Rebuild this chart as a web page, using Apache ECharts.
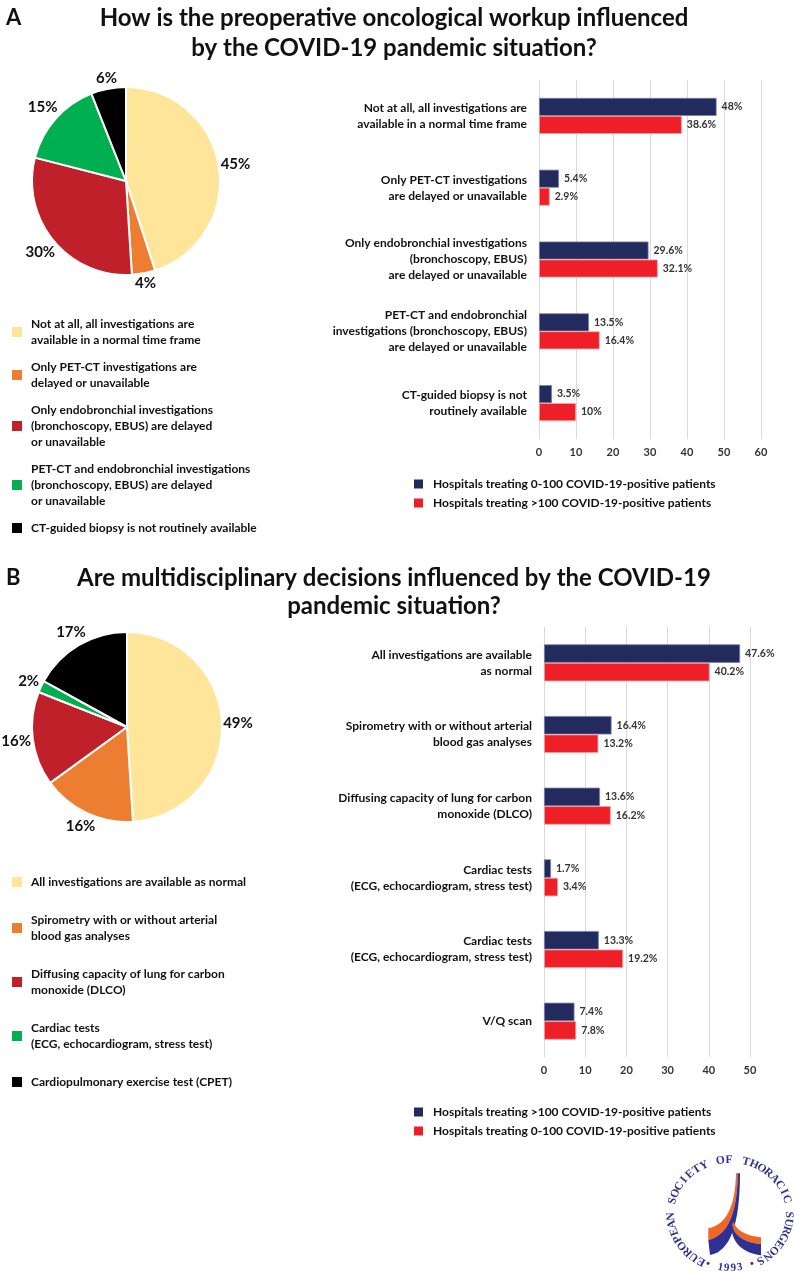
<!DOCTYPE html>
<html><head><meta charset="utf-8">
<script src="https://cdn.jsdelivr.net/npm/echarts@6/dist/echarts.min.js"></script>
<style>html,body{margin:0;padding:0;background:#fff}#c{width:795px;height:1279px}</style>
</head><body><div id="c"></div>
<script>
const FONT = 'Lato';
const TXT = '#111111';

const panelA = 'A';
const titleA = ['How is the preoperative oncological workup influenced', 'by the COVID-19 pandemic situation?'];
const pieANames = [
  'Not at all, all investigations are\navailable in a normal time frame',
  'Only PET-CT investigations are\ndelayed or unavailable',
  'Only endobronchial investigations\n(bronchoscopy, EBUS) are delayed\nor unavailable',
  'PET-CT and endobronchial investigations\n(bronchoscopy, EBUS) are delayed\nor unavailable',
  'CT-guided biopsy is not routinely available'
];
const pieAValues = [45, 4, 30, 15, 6];
const barACategories = [
  'Not at all, all investigations are\navailable in a normal time frame',
  'Only PET-CT investigations\nare delayed or unavailable',
  'Only endobronchial investigations\n(bronchoscopy, EBUS)\nare delayed or unavailable',
  'PET-CT and endobronchial\ninvestigations (bronchoscopy, EBUS)\nare delayed or unavailable',
  'CT-guided biopsy is not\nroutinely available'
];
const barASeries = ['Hospitals treating 0-100 COVID-19-positive patients', 'Hospitals treating >100 COVID-19-positive patients'];
const barANavy = [48, 5.4, 29.6, 13.5, 3.5];
const barARed = [38.6, 2.9, 32.1, 16.4, 10];
const axisATicks = { min: 0, max: 60, interval: 10 };

const panelB = 'B';
const titleB = ['Are multidisciplinary decisions influenced by the COVID-19', 'pandemic situation?'];
const pieBNames = [
  'All investigations are available as normal',
  'Spirometry with or without arterial\nblood gas analyses',
  'Diffusing capacity of lung for carbon\nmonoxide (DLCO)',
  'Cardiac tests\n(ECG, echocardiogram, stress test)',
  'Cardiopulmonary exercise test (CPET)'
];
const pieBValues = [49, 16, 16, 2, 17];
const barBCategories = [
  'All investigations are available\nas normal',
  'Spirometry with or without arterial\nblood gas analyses',
  'Diffusing capacity of lung for carbon\nmonoxide (DLCO)',
  'Cardiac tests\n(ECG, echocardiogram, stress test)',
  'Cardiac tests\n(ECG, echocardiogram, stress test)',
  'V/Q scan'
];
const barBSeries = ['Hospitals treating >100 COVID-19-positive patients', 'Hospitals treating 0-100 COVID-19-positive patients'];
const barBNavy = [47.6, 16.4, 13.6, 1.7, 13.3, 7.4];
const barBRed = [40.2, 13.2, 16.2, 3.4, 19.2, 7.8];
const axisBTicks = { min: 0, max: 50, interval: 10 };

const logoText = 'EUROPEAN SOCIETY OF THORACIC SURGEONS';
const logoYear = '• 1993 •';

const PIE_COLORS = ['#FEE599', '#ED7D31', '#C0202A', '#00B050', '#000000'];
const NAVY = '#232B5E';
const RED = '#EE1F26';

const chart = echarts.init(document.getElementById('c'), null, { renderer: 'canvas', width: 795, height: 1279 });

function pieData(names, values) {
  return names.map((n, i) => ({ name: n, value: values[i], itemStyle: { color: PIE_COLORS[i] } }));
}
// place each label just outside the slice edge along its mid-angle (like "outside end")
function outsideEnd(values, center, r) {
  const total = values.reduce((a, b) => a + b, 0);
  return function (p) {
    let cum = 0;
    for (let i = 0; i < p.dataIndex; i++) cum += values[i];
    const mid = (cum + values[p.dataIndex] / 2) / total * 2 * Math.PI;
    const dx = Math.sin(mid), dy = -Math.cos(mid);
    const w = p.labelRect.width, h = p.labelRect.height;
    const d = r + 1 + Math.abs(dx) * w / 2 + Math.abs(dy) * h / 2;
    return { x: center[0] + dx * d, y: center[1] + dy * d, align: 'center', verticalAlign: 'middle' };
  };
}
function pieSeries(names, values, center, r) {
  return {
    type: 'pie', center: center, radius: r, startAngle: 90, clockwise: true,
    avoidLabelOverlap: false, silent: true,
    itemStyle: { borderColor: '#fff', borderWidth: 2 },
    label: { show: true, position: 'outside', formatter: '{c}%', fontFamily: FONT, fontWeight: 'bold', fontSize: 15, color: TXT },
    labelLine: { show: false, length: 0, length2: 0 },
    labelLayout: outsideEnd(values, center, r),
    data: pieData(names, values)
  };
}
function pieLegend(names, top, gap) {
  return {
    orient: 'vertical', left: 12, top: top, padding: 0, itemGap: gap,
    icon: 'rect', itemWidth: 10, itemHeight: 10, selectedMode: false,
    itemStyle: { borderWidth: 0 },
    textStyle: { fontFamily: FONT, fontWeight: 'bold', fontSize: 12, lineHeight: 16, color: TXT, padding: [0, 0, 0, 4] },
    data: names
  };
}
function barLegend(names, colors, top) {
  return {
    orient: 'vertical', left: 414, top: top, padding: 0, itemGap: 3,
    icon: 'rect', itemWidth: 9, itemHeight: 9, selectedMode: false,
    textStyle: { fontFamily: FONT, fontWeight: 'bold', fontSize: 12, lineHeight: 16, color: TXT, padding: [0, 0, 0, 5] },
    data: names.map((n, i) => ({ name: n, itemStyle: { color: colors[i], borderWidth: 0 } }))
  };
}
function barSeries(name, data, color, border, axisIdx, bw) {
  return {
    type: 'bar', name: name, data: data, xAxisIndex: axisIdx, yAxisIndex: axisIdx,
    barWidth: bw, barGap: '0%', silent: true,
    itemStyle: { color: color, borderColor: border, borderWidth: 0.8 },
    label: { show: true, position: 'right', distance: 5, formatter: '{c}%', fontFamily: FONT, fontWeight: 'bold', fontSize: 10.5, color: '#333' }
  };
}
function xAx(ticks, gi) {
  return {
    type: 'value', gridIndex: gi, min: ticks.min, max: ticks.max, interval: ticks.interval,
    axisLine: { show: false }, axisTick: { show: false },
    splitLine: { show: true, lineStyle: { color: '#D9D9D9', width: 1 } },
    axisLabel: { fontFamily: FONT, fontWeight: 'bold', fontSize: 11, color: '#333', margin: 8 }
  };
}
function yAx(cats, gi) {
  return {
    type: 'category', gridIndex: gi, data: cats, inverse: true,
    axisLine: { show: false }, axisTick: { show: false },
    axisLabel: { interval: 0, margin: 12, fontFamily: FONT, fontWeight: 'bold', fontSize: 12, lineHeight: 16, color: TXT }
  };
}

// title + logo graphics
const graphics = [];
function addTitle(panel, lines, y0, dy) {
  graphics.push({ type: 'text', x: 6, y: y0, style: { text: panel, fontFamily: FONT, fontWeight: 'bold', fontSize: 22, fill: TXT, align: 'left', verticalAlign: 'middle' } });
  lines.forEach((t, i) => graphics.push({ type: 'text', x: 394, y: y0 + i * dy, style: { text: t, fontFamily: FONT, fontWeight: 'bold', fontSize: 24, fill: TXT, align: 'center', verticalAlign: 'middle' } }));
}
addTitle(panelA, titleA, 18, 30);
addTitle(panelB, titleB, 578, 28);

const LCX = 730, LCY = 1214, LRX = 59, LRY = 54, LOGO_BLUE = '#2E3192', LOGO_OR = '#F26522';
const chars = logoText.split('');
const a0 = -151, a1 = 149;
chars.forEach((ch, i) => {
  const th = (a0 + (a1 - a0) * i / (chars.length - 1)) * Math.PI / 180;
  graphics.push({ type: 'text', x: LCX + LRX * Math.sin(th), y: LCY - LRY * Math.cos(th), rotation: -th, silent: true,
    style: { text: ch, fontFamily: 'Liberation Serif', fontWeight: 'bold', fontSize: 11.5, fill: LOGO_BLUE, align: 'center', verticalAlign: 'middle' } });
});
const ychars = logoYear.split('');
ychars.forEach((ch, i) => {
  const thd = 158 + (202 - 158) * (ychars.length - 1 - i) / (ychars.length - 1);
  const th = thd * Math.PI / 180;
  graphics.push({ type: 'text', x: LCX + LRX * Math.sin(th), y: LCY - LRY * Math.cos(th), rotation: -(th - Math.PI), silent: true,
    style: { text: ch, fontFamily: 'Liberation Serif', fontWeight: 'bold', fontSize: 11, fill: LOGO_BLUE, align: 'center', verticalAlign: 'middle' } });
});
// swoosh outlines sampled into polygons
function shapePoints(segs) {
  const pts = [];
  let cur = null;
  segs.forEach(s => {
    if (s[0] === 'M' || s[0] === 'L') { cur = [s[1], s[2]]; pts.push(cur); }
    else if (s[0] === 'Q') {
      const p0 = cur, c = [s[1], s[2]], p1 = [s[3], s[4]];
      for (let k = 1; k <= 16; k++) {
        const t = k / 16, u = 1 - t;
        pts.push([u * u * p0[0] + 2 * u * t * c[0] + t * t * p1[0], u * u * p0[1] + 2 * u * t * c[1] + t * t * p1[1]]);
      }
      cur = p1;
    }
  });
  return pts;
}
const swooshes = [
  // left horn: orange outer band, navy inner band
  [LOGO_OR, [['M', 708.3, 1228.3], ['Q', 735, 1223.3, 736, 1173.3], ['L', 737.7, 1173.3], ['Q', 737.3, 1233.3, 708.3, 1240]]],
  [LOGO_BLUE, [['M', 708.3, 1240], ['Q', 737.3, 1233.3, 737.7, 1173.3], ['L', 740, 1173.3], ['Q', 740, 1250, 710, 1255]]],
  // right horn
  [LOGO_OR, [['M', 733.3, 1221.7], ['Q', 738.3, 1235, 761, 1237.3], ['L', 761, 1244], ['Q', 736, 1241.7, 732, 1225]]],
  [LOGO_BLUE, [['M', 732, 1225], ['Q', 736, 1241.7, 761, 1244], ['L', 761, 1255.3], ['Q', 734, 1251.7, 731.3, 1228.3]]]
];
swooshes.forEach(s => graphics.push({ type: 'polygon', silent: true, shape: { points: shapePoints(s[1]) }, style: { fill: s[0] } }));

const option = {
  backgroundColor: '#ffffff',
  animation: false,
  textStyle: { fontFamily: FONT },
  grid: [
    { left: 539, top: 80, width: 222, height: 359 },
    { left: 544, top: 627, width: 206, height: 430 }
  ],
  xAxis: [xAx(axisATicks, 0), xAx(axisBTicks, 1)],
  yAxis: [yAx(barACategories, 0), yAx(barBCategories, 1)],
  legend: [
    pieLegend(pieANames, 316, 11),
    pieLegend(pieBNames, 874, 22),
    barLegend(barASeries, [NAVY, RED], 476),
    barLegend(barBSeries, [NAVY, RED], 1104)
  ],
  series: [
    pieSeries(pieANames, pieAValues, [126, 181], 94),
    pieSeries(pieBNames, pieBValues, [127, 727], 95),
    barSeries(barASeries[0], barANavy, NAVY, '#7A80A8', 0, 18),
    barSeries(barASeries[1], barARed, RED, '#F5A3A6', 0, 18),
    barSeries(barBSeries[0], barBNavy, NAVY, '#7A80A8', 1, 18.5),
    barSeries(barBSeries[1], barBRed, RED, '#F5A3A6', 1, 18.5)
  ],
  graphic: graphics
};
chart.setOption(option);
</script></body></html>
